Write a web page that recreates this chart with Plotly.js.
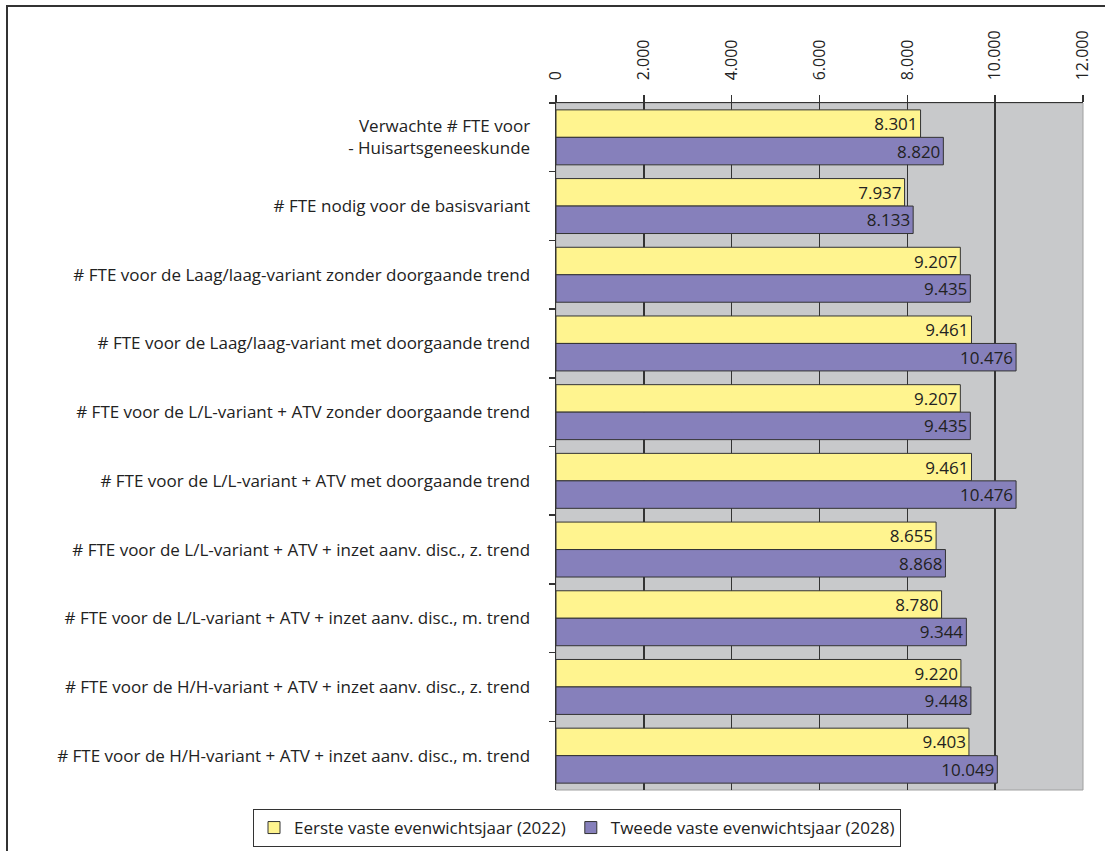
<!DOCTYPE html>
<html>
<head>
<meta charset="utf-8">
<script src="https://cdn.plot.ly/plotly-3.0.1.min.js"></script>
<style>
html,body{margin:0;padding:0;background:#fff;}
#chart{width:1105px;height:851px;}
</style>
</head>
<body>
<div id="chart"></div>
<script>
const categories = [
  "Verwachte # FTE voor<br>- Huisartsgeneeskunde",
  "# FTE nodig voor de basisvariant",
  "# FTE voor de Laag/laag-variant zonder doorgaande trend",
  "# FTE voor de Laag/laag-variant met doorgaande trend",
  "# FTE voor de L/L-variant + ATV zonder doorgaande trend",
  "# FTE voor de L/L-variant + ATV met doorgaande trend",
  "# FTE voor de L/L-variant + ATV + inzet aanv. disc., z. trend",
  "# FTE voor de L/L-variant + ATV + inzet aanv. disc., m. trend",
  "# FTE voor de H/H-variant + ATV + inzet aanv. disc., z. trend",
  "# FTE voor de H/H-variant + ATV + inzet aanv. disc., m. trend"
];
const eerste = [8301, 7937, 9207, 9461, 9207, 9461, 8655, 8780, 9220, 9403];
const tweede = [8820, 8133, 9435, 10476, 9435, 10476, 8868, 9344, 9448, 10049];
const seriesNames = ["Eerste vaste evenwichtsjaar (2022)", "Tweede vaste evenwichtsjaar (2028)"];
const tickVals = [0, 2000, 4000, 6000, 8000, 10000, 12000];

const FONT = "Open Sans, Noto Sans, sans-serif";
const FS = 17;

function bar(name, vals, color) {
  return {
    type: "bar", orientation: "h", name: name,
    y: categories, x: vals,
    marker: {color: color, line: {color: "#333", width: 1}},
    texttemplate: "%{x:,.0f}",
    textposition: "inside", insidetextanchor: "end",
    textangle: 0, constraintext: "none",
    insidetextfont: {family: FONT, size: FS, color: "#222"},
    hoverinfo: "x+name"
  };
}

const data = [bar(seriesNames[0], eerste, "#fff48f"), bar(seriesNames[1], tweede, "#8680bb")];

// plot area px: left 556, right 1083, top 103, bottom 790
const PL = 556, PR = 1083, PT = 103, PB = 790;
const PW = PR - PL, PH = PB - PT;
const px = v => (v - PL) / PW;
const py = v => (PB - v) / PH;

const layout = {
  width: 1105, height: 851,
  margin: {l: PL, r: 1105 - PR, t: PT, b: 851 - PB, pad: 0, autoexpand: false},
  paper_bgcolor: "#ffffff",
  plot_bgcolor: "#c8c9cb",
  separators: ",.",
  font: {family: FONT, size: FS, color: "#222"},
  barmode: "group", bargap: 0.2, bargroupgap: 0,
  xaxis: {
    side: "top", range: [0, 12000], tickvals: tickVals,
    tickformat: ",.0f", tickangle: -90,
    ticks: "outside", ticklen: 7, tickcolor: "#333", tickwidth: 1.5,
    ticklabelstandoff: 11,
    showgrid: true, gridcolor: "#333", gridwidth: 1.5,
    showline: true, linecolor: "#333", linewidth: 1.5,
    zeroline: false,
    tickfont: {family: FONT, size: 16, color: "#222"},
    fixedrange: true
  },
  yaxis: {
    type: "category", autorange: "reversed",
    ticks: "outside", tickson: "boundaries", ticklen: 6, tickcolor: "#333", tickwidth: 1.5,
    ticklabelstandoff: 21,
    showgrid: false,
    showline: true, linecolor: "#333", linewidth: 1.5,
    tickfont: {family: FONT, size: FS, color: "#222"},
    fixedrange: true
  },
  showlegend: true,
  legend: {
    orientation: "h",
    x: px(253), xanchor: "left",
    y: py(809), yanchor: "top",
    bgcolor: "#fff", bordercolor: "#333", borderwidth: 1,
    font: {family: FONT, size: FS, color: "#222"},
    traceorder: "normal"
  },
  shapes: [
    {type: "path", xref: "paper", yref: "paper",
     path: `M ${px(7)},${py(851)} L ${px(7)},${py(6)} L ${px(1105)},${py(6)}`,
     line: {color: "#333", width: 2}},
    {type: "rect", xref: "paper", yref: "paper", x0: 0, x1: 1, y0: 0, y1: 1,
     line: {color: "#a0a0a0", width: 1}, layer: "below"}
  ]
};

Plotly.newPlot("chart", data, layout, {displayModeBar: false, staticPlot: true});
</script>
</body>
</html>
